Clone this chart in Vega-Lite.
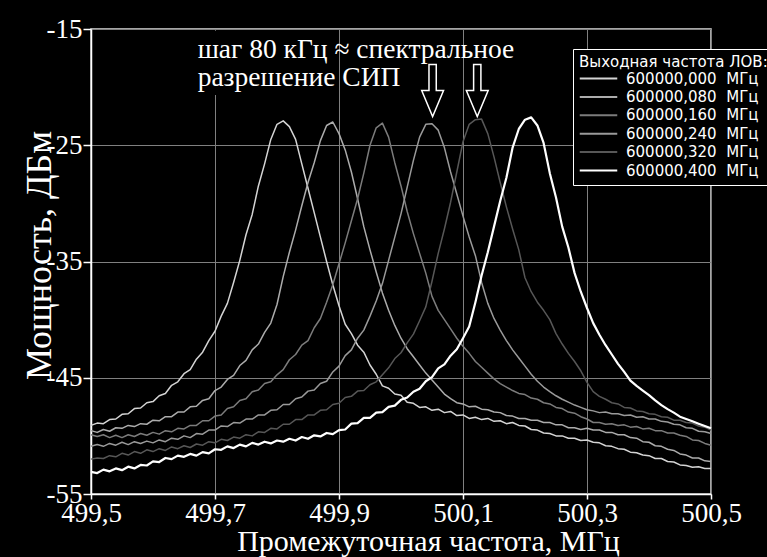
{
  "$schema": "https://vega.github.io/schema/vega-lite/v6.json",
  "width": 620,
  "height": 465,
  "autosize": {"type": "none"},
  "padding": {"left": 91, "top": 29, "right": 56, "bottom": 63},
  "background": "black",
  "config": {
    "view": {"stroke": "#dcdcdc", "strokeWidth": 1.5},
    "axis": {
      "labelFont": "Liberation Serif",
      "labelFontSize": 27,
      "labelColor": "white",
      "labelFlush": false,
      "labelOverlap": false,
      "domainColor": "white",
      "domainWidth": 1.5,
      "tickColor": "white",
      "tickWidth": 1.5,
      "gridColor": "#808080",
      "gridWidth": 1,
      "titleFont": "Liberation Serif",
      "titleFontSize": 30,
      "titleFontWeight": "normal",
      "titleColor": "white"
    }
  },
  "datasets": {
    "spec": [
      {"x": 499.50, "a": -49.1, "b": -49.55, "c": -49.9, "d": -50.9, "e": -52.0, "f": -53.1},
      {"x": 499.51, "a": -48.9, "b": -49.7, "c": -50.05, "d": -50.75, "e": -51.9, "f": -53.2},
      {"x": 499.52, "a": -48.95, "b": -49.45, "c": -49.9, "d": -50.9, "e": -51.95, "f": -52.9},
      {"x": 499.53, "a": -48.6, "b": -49.6, "c": -50.15, "d": -50.65, "e": -51.7, "f": -53.05},
      {"x": 499.54, "a": -48.55, "b": -49.3, "c": -49.95, "d": -50.8, "e": -51.8, "f": -52.8},
      {"x": 499.55, "a": -48.15, "b": -49.35, "c": -50.15, "d": -50.55, "e": -51.5, "f": -52.95},
      {"x": 499.56, "a": -48.1, "b": -49.1, "c": -49.9, "d": -50.75, "e": -51.65, "f": -52.65},
      {"x": 499.57, "a": -47.65, "b": -49.2, "c": -50.05, "d": -50.5, "e": -51.35, "f": -52.8},
      {"x": 499.58, "a": -47.6, "b": -48.95, "c": -49.8, "d": -50.65, "e": -51.5, "f": -52.5},
      {"x": 499.59, "a": -47.15, "b": -49.0, "c": -49.95, "d": -50.45, "e": -51.2, "f": -52.55},
      {"x": 499.60, "a": -47.05, "b": -48.65, "c": -49.7, "d": -50.6, "e": -51.35, "f": -52.2},
      {"x": 499.61, "a": -46.55, "b": -48.7, "c": -49.85, "d": -50.35, "e": -51.1, "f": -52.25},
      {"x": 499.62, "a": -46.35, "b": -48.35, "c": -49.55, "d": -50.5, "e": -51.25, "f": -51.9},
      {"x": 499.63, "a": -45.65, "b": -48.35, "c": -49.65, "d": -50.2, "e": -50.95, "f": -52.0},
      {"x": 499.64, "a": -45.35, "b": -47.95, "c": -49.35, "d": -50.3, "e": -51.1, "f": -51.7},
      {"x": 499.65, "a": -44.65, "b": -47.95, "c": -49.4, "d": -50.0, "e": -50.85, "f": -51.8},
      {"x": 499.66, "a": -44.3, "b": -47.5, "c": -49.1, "d": -50.15, "e": -51.0, "f": -51.55},
      {"x": 499.67, "a": -43.4, "b": -47.45, "c": -49.1, "d": -49.8, "e": -50.7, "f": -51.7},
      {"x": 499.68, "a": -42.8, "b": -46.95, "c": -48.7, "d": -49.85, "e": -50.8, "f": -51.4},
      {"x": 499.69, "a": -41.8, "b": -46.8, "c": -48.7, "d": -49.5, "e": -50.5, "f": -51.5},
      {"x": 499.70, "a": -41.0, "b": -46.1, "c": -48.3, "d": -49.5, "e": -50.6, "f": -51.15},
      {"x": 499.71, "a": -39.7, "b": -45.8, "c": -48.2, "d": -49.15, "e": -50.3, "f": -51.2},
      {"x": 499.72, "a": -38.6, "b": -45.15, "c": -47.65, "d": -49.2, "e": -50.4, "f": -50.9},
      {"x": 499.73, "a": -36.8, "b": -44.8, "c": -47.5, "d": -48.85, "e": -50.1, "f": -51.05},
      {"x": 499.74, "a": -34.9, "b": -43.95, "c": -46.95, "d": -48.9, "e": -50.2, "f": -50.75},
      {"x": 499.75, "a": -32.7, "b": -43.5, "c": -46.8, "d": -48.55, "e": -49.9, "f": -50.9},
      {"x": 499.76, "a": -30.95, "b": -42.6, "c": -46.2, "d": -48.55, "e": -50.0, "f": -50.6},
      {"x": 499.77, "a": -28.5, "b": -42.1, "c": -46.05, "d": -48.2, "e": -49.65, "f": -50.75},
      {"x": 499.78, "a": -26.6, "b": -41.1, "c": -45.5, "d": -48.2, "e": -49.7, "f": -50.5},
      {"x": 499.79, "a": -24.5, "b": -40.3, "c": -45.35, "d": -47.8, "e": -49.35, "f": -50.65},
      {"x": 499.80, "a": -23.2, "b": -38.7, "c": -44.75, "d": -47.75, "e": -49.4, "f": -50.4},
      {"x": 499.81, "a": -22.9, "b": -36.3, "c": -44.3, "d": -47.3, "e": -49.0, "f": -50.5},
      {"x": 499.82, "a": -23.4, "b": -34.2, "c": -43.45, "d": -47.3, "e": -49.0, "f": -50.25},
      {"x": 499.83, "a": -24.5, "b": -32.3, "c": -43.0, "d": -46.8, "e": -48.6, "f": -50.4},
      {"x": 499.84, "a": -26.6, "b": -30.2, "c": -42.2, "d": -46.65, "e": -48.6, "f": -50.1},
      {"x": 499.85, "a": -28.7, "b": -28.2, "c": -41.8, "d": -46.15, "e": -48.2, "f": -50.25},
      {"x": 499.86, "a": -30.8, "b": -26.5, "c": -40.7, "d": -46.05, "e": -48.2, "f": -49.95},
      {"x": 499.87, "a": -32.9, "b": -24.6, "c": -39.9, "d": -45.5, "e": -47.8, "f": -50.05},
      {"x": 499.88, "a": -35.0, "b": -23.3, "c": -38.5, "d": -45.3, "e": -47.75, "f": -49.75},
      {"x": 499.89, "a": -37.0, "b": -23.0, "c": -37.0, "d": -44.5, "e": -47.3, "f": -49.85},
      {"x": 499.90, "a": -38.8, "b": -24.0, "c": -35.2, "d": -44.0, "e": -47.2, "f": -49.5},
      {"x": 499.91, "a": -40.4, "b": -25.4, "c": -33.4, "d": -43.1, "e": -46.7, "f": -49.45},
      {"x": 499.92, "a": -41.2, "b": -27.3, "c": -31.5, "d": -42.6, "e": -46.6, "f": -48.95},
      {"x": 499.93, "a": -42.2, "b": -29.6, "c": -29.6, "d": -41.6, "e": -46.15, "f": -48.9},
      {"x": 499.94, "a": -42.8, "b": -32.0, "c": -27.4, "d": -40.9, "e": -46.1, "f": -48.45},
      {"x": 499.95, "a": -43.9, "b": -34.0, "c": -25.0, "d": -39.7, "e": -45.6, "f": -48.45},
      {"x": 499.96, "a": -44.7, "b": -35.9, "c": -23.5, "d": -38.4, "e": -45.35, "f": -48.0},
      {"x": 499.97, "a": -45.7, "b": -37.7, "c": -23.1, "d": -36.9, "e": -44.75, "f": -47.95},
      {"x": 499.98, "a": -45.9, "b": -39.2, "c": -24.3, "d": -34.9, "e": -44.15, "f": -47.5},
      {"x": 499.99, "a": -46.4, "b": -40.5, "c": -26.5, "d": -32.9, "e": -43.35, "f": -47.4},
      {"x": 500.00, "a": -46.5, "b": -41.6, "c": -28.5, "d": -30.9, "e": -42.85, "f": -46.9},
      {"x": 500.01, "a": -47.1, "b": -42.5, "c": -30.7, "d": -28.6, "e": -42.0, "f": -46.7},
      {"x": 500.02, "a": -47.2, "b": -43.2, "c": -32.6, "d": -26.3, "e": -41.25, "f": -46.2},
      {"x": 500.03, "a": -47.55, "b": -43.9, "c": -34.3, "d": -24.3, "e": -40.1, "f": -45.95},
      {"x": 500.04, "a": -47.5, "b": -44.6, "c": -36.0, "d": -23.2, "e": -38.9, "f": -45.3},
      {"x": 500.05, "a": -47.8, "b": -45.2, "c": -38.0, "d": -23.15, "e": -36.7, "f": -44.95},
      {"x": 500.06, "a": -47.7, "b": -45.8, "c": -39.2, "d": -23.7, "e": -34.3, "f": -44.2},
      {"x": 500.07, "a": -48.0, "b": -46.4, "c": -40.0, "d": -25.2, "e": -32.2, "f": -43.85},
      {"x": 500.08, "a": -47.9, "b": -46.8, "c": -40.8, "d": -27.3, "e": -29.9, "f": -43.1},
      {"x": 500.09, "a": -48.25, "b": -47.15, "c": -41.6, "d": -29.2, "e": -27.3, "f": -42.55},
      {"x": 500.10, "a": -48.2, "b": -47.25, "c": -42.3, "d": -31.1, "e": -24.7, "f": -41.6},
      {"x": 500.11, "a": -48.5, "b": -47.5, "c": -42.9, "d": -32.9, "e": -23.2, "f": -40.6},
      {"x": 500.12, "a": -48.4, "b": -47.45, "c": -43.6, "d": -34.5, "e": -22.8, "f": -38.5},
      {"x": 500.13, "a": -48.6, "b": -47.7, "c": -44.1, "d": -36.8, "e": -22.75, "f": -36.2},
      {"x": 500.14, "a": -48.5, "b": -47.75, "c": -44.6, "d": -38.6, "e": -24.0, "f": -34.2},
      {"x": 500.15, "a": -48.75, "b": -47.95, "c": -45.1, "d": -39.9, "e": -26.0, "f": -32.0},
      {"x": 500.16, "a": -48.7, "b": -48.0, "c": -45.5, "d": -40.9, "e": -28.2, "f": -29.8},
      {"x": 500.17, "a": -48.95, "b": -48.25, "c": -45.8, "d": -41.8, "e": -30.3, "f": -27.8},
      {"x": 500.18, "a": -48.85, "b": -48.3, "c": -46.1, "d": -42.6, "e": -32.2, "f": -25.2},
      {"x": 500.19, "a": -49.1, "b": -48.5, "c": -46.35, "d": -43.3, "e": -34.0, "f": -23.6},
      {"x": 500.20, "a": -49.15, "b": -48.5, "c": -46.45, "d": -44.0, "e": -36.4, "f": -22.8},
      {"x": 500.21, "a": -49.45, "b": -48.65, "c": -46.75, "d": -44.7, "e": -37.6, "f": -22.6},
      {"x": 500.22, "a": -49.5, "b": -48.65, "c": -46.85, "d": -45.3, "e": -38.5, "f": -23.3},
      {"x": 500.23, "a": -49.75, "b": -48.85, "c": -47.15, "d": -45.8, "e": -39.2, "f": -24.8},
      {"x": 500.24, "a": -49.8, "b": -48.85, "c": -47.25, "d": -46.2, "e": -40.0, "f": -27.4},
      {"x": 500.25, "a": -50.0, "b": -49.05, "c": -47.55, "d": -46.55, "e": -41.2, "f": -29.5},
      {"x": 500.26, "a": -50.0, "b": -49.05, "c": -47.65, "d": -46.85, "e": -42.1, "f": -32.0},
      {"x": 500.27, "a": -50.2, "b": -49.3, "c": -47.95, "d": -47.1, "e": -42.9, "f": -33.8},
      {"x": 500.28, "a": -50.2, "b": -49.3, "c": -48.05, "d": -47.35, "e": -43.6, "f": -36.0},
      {"x": 500.29, "a": -50.4, "b": -49.45, "c": -48.35, "d": -47.55, "e": -44.4, "f": -37.6},
      {"x": 500.30, "a": -50.35, "b": -49.35, "c": -48.55, "d": -47.75, "e": -45.4, "f": -39.0},
      {"x": 500.31, "a": -50.55, "b": -49.5, "c": -48.85, "d": -47.85, "e": -46.2, "f": -40.3},
      {"x": 500.32, "a": -50.6, "b": -49.5, "c": -48.85, "d": -48.0, "e": -46.6, "f": -41.3},
      {"x": 500.33, "a": -50.85, "b": -49.7, "c": -49.0, "d": -47.95, "e": -46.85, "f": -42.2},
      {"x": 500.34, "a": -50.9, "b": -49.7, "c": -48.95, "d": -48.1, "e": -47.15, "f": -43.0},
      {"x": 500.35, "a": -51.1, "b": -49.9, "c": -49.1, "d": -48.1, "e": -47.25, "f": -43.8},
      {"x": 500.36, "a": -51.15, "b": -49.9, "c": -49.05, "d": -48.25, "e": -47.55, "f": -44.5},
      {"x": 500.37, "a": -51.4, "b": -50.15, "c": -49.25, "d": -48.2, "e": -47.6, "f": -45.25},
      {"x": 500.38, "a": -51.45, "b": -50.2, "c": -49.2, "d": -48.4, "e": -47.85, "f": -45.7},
      {"x": 500.39, "a": -51.65, "b": -50.5, "c": -49.4, "d": -48.35, "e": -47.9, "f": -46.1},
      {"x": 500.40, "a": -51.7, "b": -50.55, "c": -49.35, "d": -48.55, "e": -48.1, "f": -46.5},
      {"x": 500.41, "a": -51.95, "b": -50.85, "c": -49.55, "d": -48.55, "e": -48.15, "f": -46.95},
      {"x": 500.42, "a": -51.95, "b": -50.9, "c": -49.55, "d": -48.75, "e": -48.35, "f": -47.35},
      {"x": 500.43, "a": -52.2, "b": -51.15, "c": -49.75, "d": -48.8, "e": -48.4, "f": -47.7},
      {"x": 500.44, "a": -52.25, "b": -51.25, "c": -49.75, "d": -49.0, "e": -48.65, "f": -48.0},
      {"x": 500.45, "a": -52.5, "b": -51.55, "c": -49.95, "d": -49.05, "e": -48.65, "f": -48.35},
      {"x": 500.46, "a": -52.55, "b": -51.65, "c": -50.05, "d": -49.3, "e": -48.85, "f": -48.55},
      {"x": 500.47, "a": -52.7, "b": -51.9, "c": -50.35, "d": -49.35, "e": -48.9, "f": -48.75},
      {"x": 500.48, "a": -52.65, "b": -51.9, "c": -50.4, "d": -49.6, "e": -49.15, "f": -48.95},
      {"x": 500.49, "a": -52.8, "b": -52.15, "c": -50.65, "d": -49.65, "e": -49.25, "f": -49.15},
      {"x": 500.50, "a": -52.8, "b": -52.2, "c": -50.8, "d": -49.8, "e": -49.5, "f": -49.35}
    ],
    "arrows": [
      {"x": 500.051, "y": -20.3},
      {"x": 500.123, "y": -20.3}
    ]
  },
  "layer": [
    {
      "data": {"name": "spec"},
      "transform": [{"fold": ["a", "b", "c", "d", "e", "f"], "as": ["k", "p"]}],
      "mark": {"type": "line", "strokeJoin": "round"},
      "encoding": {
        "x": {
          "field": "x",
          "type": "quantitative",
          "scale": {"domain": [499.5, 500.5], "nice": false, "zero": false},
          "axis": {
            "values": [499.5, 499.7, 499.9, 500.1, 500.3, 500.5],
            "labelExpr": "replace(format(datum.value, '.1f'), '.', ',')",
            "tickSize": 5,
            "labelBaseline": "alphabetic",
            "labelPadding": 22,
            "title": "Промежуточная частота, МГц",
            "titleX": 337,
            "titleY": 56,
            "titleBaseline": "alphabetic"
          }
        },
        "y": {
          "field": "p",
          "type": "quantitative",
          "scale": {"domain": [-55, -15], "nice": false, "zero": false},
          "axis": {
            "values": [-55, -45, -35, -25, -15],
            "labelExpr": "'' + datum.value",
            "tickSize": 8,
            "labelPadding": 1,
            "title": "Мощность, ДБм",
            "titleFontSize": 36,
            "titleX": -41,
            "titleY": 226,
            "titleBaseline": "alphabetic"
          }
        },
        "color": {
          "field": "k",
          "type": "nominal",
          "scale": {
            "domain": ["a", "b", "c", "d", "e", "f"],
            "range": ["#d4d4d4", "#acacac", "#7c7c7c", "#9a9a9a", "#575757", "#ffffff"]
          },
          "legend": {
            "title": "Выходная частота ЛОВ:",
            "orient": "none",
            "legendX": 482,
            "legendY": 20,
            "labelExpr": "{'a': '600000,000\u00a0\u00a0МГц', 'b': '600000,080\u00a0\u00a0МГц', 'c': '600000,160\u00a0\u00a0МГц', 'd': '600000,240\u00a0\u00a0МГц', 'e': '600000,320\u00a0\u00a0МГц', 'f': '600000,400\u00a0\u00a0МГц'}[datum.label]",
            "fillColor": "black",
            "strokeColor": "white",
            "padding": 6,
            "titleFont": "DejaVu Sans",
            "titleFontSize": 15,
            "titleFontWeight": "normal",
            "titleColor": "white",
            "titlePadding": 0,
            "titleLimit": 400,
            "labelFont": "DejaVu Sans",
            "labelFontSize": 15,
            "labelColor": "white",
            "labelLimit": 400,
            "symbolType": "M -2.5 0 L 2.5 0",
            "symbolSize": 225,
            "symbolStrokeWidth": 2,
            "symbolOffset": 11,
            "labelOffset": 19,
            "rowPadding": 1.4
          }
        },
        "strokeWidth": {
          "condition": {"test": "datum.k === 'f'", "value": 2.2},
          "value": 1.5
        }
      }
    },
    {
      "data": {"values": [{}]},
      "mark": {"type": "rect", "color": "black"},
      "encoding": {
        "x": {"datum": 499.66},
        "x2": {"datum": 499.85},
        "y": {"datum": -15.15},
        "y2": {"datum": -20.68}
      }
    },
    {
      "data": {"values": [{}]},
      "mark": {
        "type": "text",
        "text": ["шаг 80 кГц ≈ спектральное", "разрешение СИП"],
        "align": "left",
        "baseline": "alphabetic",
        "font": "Liberation Serif",
        "fontSize": 27.5,
        "lineHeight": 28,
        "color": "white"
      },
      "encoding": {
        "x": {"datum": 499.672},
        "y": {"datum": -17.5}
      }
    },
    {
      "data": {"name": "arrows"},
      "mark": {
        "type": "point",
        "shape": "M -0.14 -1 L 0.14 -1 L 0.14 0 L 0.42 0 L 0 1 L -0.42 0 L -0.14 0 Z",
        "size": 2704,
        "filled": true,
        "fill": "black",
        "stroke": "white",
        "strokeWidth": 1.5,
        "opacity": 1
      },
      "encoding": {
        "x": {"field": "x", "type": "quantitative"},
        "y": {"field": "y", "type": "quantitative"}
      }
    }
  ]
}
